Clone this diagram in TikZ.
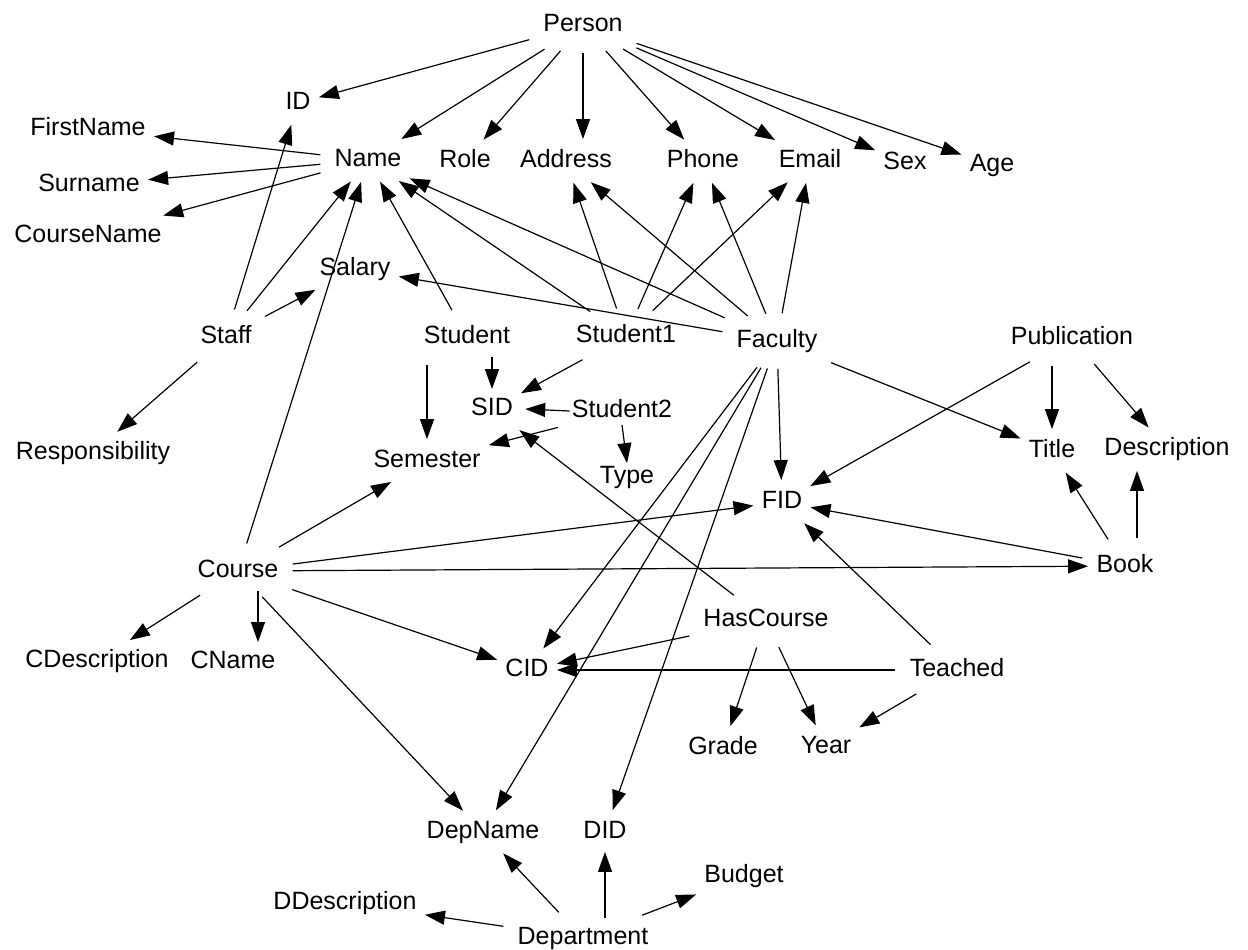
\documentclass[tikz,border=0pt]{standalone}
\usepackage{fontspec}
\setmainfont{Liberation Sans}
\usetikzlibrary{arrows.meta}
\begin{document}
\begin{tikzpicture}[x=0.5pt,y=-0.5pt,
  n/.style={inner xsep=3pt, inner ysep=4pt, text height=9pt, text depth=2.5pt, yshift=-1.5pt, font=\fontsize{12.5}{15}\selectfont},
  e/.style={-{Triangle[length=10pt,width=7pt]}, line width=0.6pt, shorten <=4pt, shorten >=1pt},
  es/.style={e, shorten <=0pt, shorten >=0pt}]
\useasboundingbox[fill=white] (0,0) rectangle (1248,949);
\node[n] (Person) at (583,22) {Person};
\node[n] (ID) at (298,100) {ID};
\node[n] (FirstName) at (88,126) {FirstName};
\node[n] (Name) at (368,157) {Name};
\node[n] (Role) at (465,158) {Role};
\node[n] (Address) at (566,158) {Address};
\node[n] (Phone) at (703,158) {Phone};
\node[n] (Email) at (810,158) {Email};
\node[n] (Sex) at (905,160) {Sex};
\node[n] (Age) at (992,162) {Age};
\node[n] (Surname) at (89,182) {Surname};
\node[n] (CourseName) at (88,233) {CourseName};
\node[n] (Salary) at (355,266) {Salary};
\node[n] (Staff) at (226,334) {Staff};
\node[n] (Student) at (467,334) {Student};
\node[n] (Student1) at (626,333) {Student1};
\node[n] (Faculty) at (777,338) {Faculty};
\node[n] (Publication) at (1072,335) {Publication};
\node[n] (SID) at (492,406) {SID};
\node[n] (Student2) at (622,408) {Student2};
\node[n] (Responsibility) at (93,450) {Responsibility};
\node[n] (Semester) at (427,458) {Semester};
\node[n] (Type) at (627,474) {Type};
\node[n] (Title) at (1052,448) {Title};
\node[n] (Description) at (1167,446) {Description};
\node[n] (FID) at (782,499) {FID};
\node[n] (Course) at (238,568) {Course};
\node[n] (Book) at (1125,563) {Book};
\node[n] (HasCourse) at (766,617) {HasCourse};
\node[n] (CDescription) at (97,658) {CDescription};
\node[n] (CName) at (233,659) {CName};
\node[n] (CID) at (527,667) {CID};
\node[n] (Teached) at (957,667) {Teached};
\node[n] (Grade) at (723,745) {Grade};
\node[n] (Year) at (826,744) {Year};
\node[n] (DepName) at (483,829) {DepName};
\node[n] (DID) at (605,829) {DID};
\node[n] (Budget) at (744,873) {Budget};
\node[n] (DDescription) at (345,900) {DDescription};
\node[n] (Department) at (583,935) {Department};

\draw[e] (Person) -- (ID);
\draw[e] (Person) -- (Name);
\draw[e] (Person) -- (Role);
\draw[e] (Person.south) -- (Person.south |- Address.north);
\draw[e] (Person) -- (Phone);
\draw[e] (Person) -- (Email);
\draw[e] (Person) -- (Sex);
\draw[e] (Person) -- (Age);
\draw[e] (Name) -- (FirstName);
\draw[e] (Name) -- (Surname);
\draw[e] (Name) -- (CourseName);
\draw[e] (Staff) -- (ID);
\draw[e] (Staff) -- (Name);
\draw[e] (Staff) -- (Salary);
\draw[e] (Staff) -- (Responsibility);
\draw[e] (Student) -- (Name);
\draw[es] (SID |- Student.south) -- (SID);
\draw[e] (Semester |- Student.south) -- (Semester);
\draw[e] (Student1) -- (Name);
\draw[e] (Student1) -- (Address);
\draw[e] (Student1) -- (Phone);
\draw[e] (Student1) -- (Email);
\draw[e] (Student1) -- (SID);
\draw[es] ([xshift=2pt]Student2.west) -- ([xshift=3pt]SID.east);
\draw[e] (Student2) -- (Semester);
\draw[es] ([yshift=3pt]Student2.south) -- ([yshift=-3pt]Type.north);
\draw[e] (Faculty) -- (Name);
\draw[e] (Faculty) -- (Salary);
\draw[e] (Faculty) -- (Address);
\draw[e] (Faculty) -- (Phone);
\draw[e] (Faculty) -- (Email);
\draw[e] (Faculty) -- (FID);
\draw[e] (Faculty) -- (Title);
\draw[e] (Faculty) -- (CID);
\draw[e] (Faculty) -- (DepName);
\draw[e] (Faculty) -- (DID);
\draw[e] (Publication) -- (FID);
\draw[e] (Title |- Publication.south) -- (Title);
\draw[e] (Publication) -- (Description);
\draw[e] (Book) -- (FID);
\draw[e] (Book) -- (Title);
\draw[e] ([xshift=6pt]Book.north) -- ([xshift=6pt]Book.north |- Description.south);
\draw[e] (Course) -- (Name);
\draw[e] (Course) -- (Semester);
\draw[e] (Course) -- (FID);
\draw[e] (Course) -- (Book);
\draw[e] (Course) -- (CID);
\draw[e] (Course) -- (CDescription);
\draw[es] ([xshift=10pt]Course.south) -- ([xshift=10pt]Course.south |- CName.north);
\draw[e] (Course) -- (DepName);
\draw[e] (HasCourse) -- (SID);
\draw[e] (HasCourse) -- (CID);
\draw[e] (HasCourse) -- (Grade);
\draw[e] (HasCourse) -- (Year);
\draw[e] (Teached) -- (CID);
\draw[e] (Teached) -- (FID);
\draw[e] (Teached) -- (Year);
\draw[e] (Department) -- (DDescription);
\draw[e] (Department) -- (DepName);
\draw[es] (DID |- Department.north) -- (DID);
\draw[e] (Department) -- (Budget);
\end{tikzpicture}
\end{document}
